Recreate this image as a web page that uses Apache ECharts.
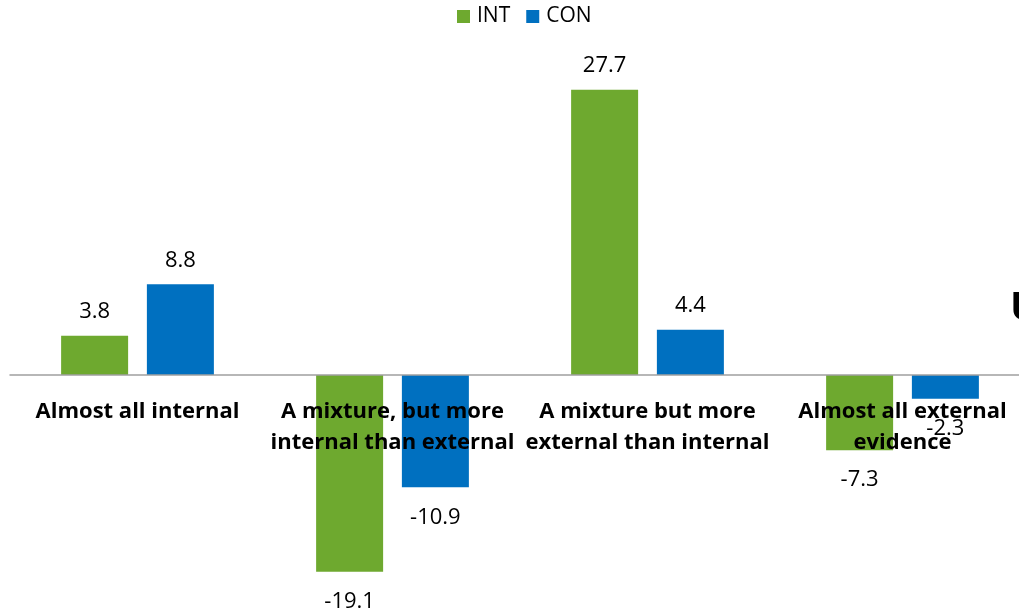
<!DOCTYPE html>
<html>
<head>
<meta charset="utf-8">
<script src="https://cdn.jsdelivr.net/npm/echarts@6/dist/echarts.min.js"></script>
<style>
  html, body { margin: 0; padding: 0; background: #fff; }
  #chart { width: 1019px; height: 614px; }
</style>
</head>
<body>
<div id="chart"></div>
<script>
// Evidence categories along the horizontal axis
const categories = [
  'Almost all internal',
  'A mixture, but more\ninternal than external',
  'A mixture but more\nexternal than internal',
  'Almost all external\nevidence'
];
// Change values per group
const intValues = [3.8, -19.1, 27.7, -7.3];
const conValues = [8.8, -10.9, 4.4, -2.3];
const seriesNames = ['INT', 'CON'];

const FONT = '"Open Sans", Lato, sans-serif';

// Value axis range and plot box; the category axis is lifted to the zero line
const Y_MIN = -20, Y_MAX = 30;
const GRID_TOP = 66, GRID_BOTTOM = 33, CHART_H = 614;
const plotH = CHART_H - GRID_TOP - GRID_BOTTOM;
const zeroOffset = -plotH * (0 - Y_MIN) / (Y_MAX - Y_MIN);

function withLabels(values) {
  return values.map(v => ({
    value: v,
    label: {
      position: v < 0 ? 'bottom' : 'top',
      distance: v < 0 ? 19 : 13
    }
  }));
}

const chart = echarts.init(document.getElementById('chart'));
chart.setOption({
  animation: false,
  textStyle: { fontFamily: FONT },
  legend: {
    top: 1,
    left: 452,
    itemWidth: 13,
    itemHeight: 13,
    itemGap: 16,
    icon: 'rect',
    textStyle: { fontSize: 21, color: '#000', fontFamily: FONT, padding: [0, 0, 0, 2] },
    data: seriesNames
  },
  grid: {
    left: 10, right: -11, top: GRID_TOP, bottom: GRID_BOTTOM,
    containLabel: false, outerBoundsMode: 'none'
  },
  xAxis: {
    type: 'category',
    data: categories,
    z: 5,
    position: 'bottom',
    offset: zeroOffset,
    axisLine: { onZero: false, lineStyle: { color: '#A0A0A0', width: 1.5 } },
    axisTick: { show: false },
    axisLabel: {
      margin: 21,
      interval: 0,
      fontSize: 22,
      fontWeight: 'bold',
      color: '#000',
      lineHeight: 31,
      fontFamily: FONT
    }
  },
  yAxis: {
    type: 'value',
    min: Y_MIN,
    max: Y_MAX,
    show: false,
    splitLine: { show: false }
  },
  series: [
    {
      name: seriesNames[0],
      type: 'bar',
      barWidth: 67,
      barGap: '28%',
      itemStyle: { color: '#6EA92F' },
      label: { show: true, fontSize: 22, color: '#000', fontFamily: FONT },
      data: withLabels(intValues)
    },
    {
      name: seriesNames[1],
      type: 'bar',
      barWidth: 67,
      barGap: '28%',
      itemStyle: { color: '#0070C0' },
      label: { show: true, fontSize: 22, color: '#000', fontFamily: FONT },
      data: withLabels(conValues)
    }
  ],
  graphic: [
    {
      type: 'text',
      left: 1010,
      top: 289,
      z: 10,
      style: { text: 'U', font: 'bold 40px ' + FONT, fill: '#000' }
    }
  ]
});
</script>
</body>
</html>
